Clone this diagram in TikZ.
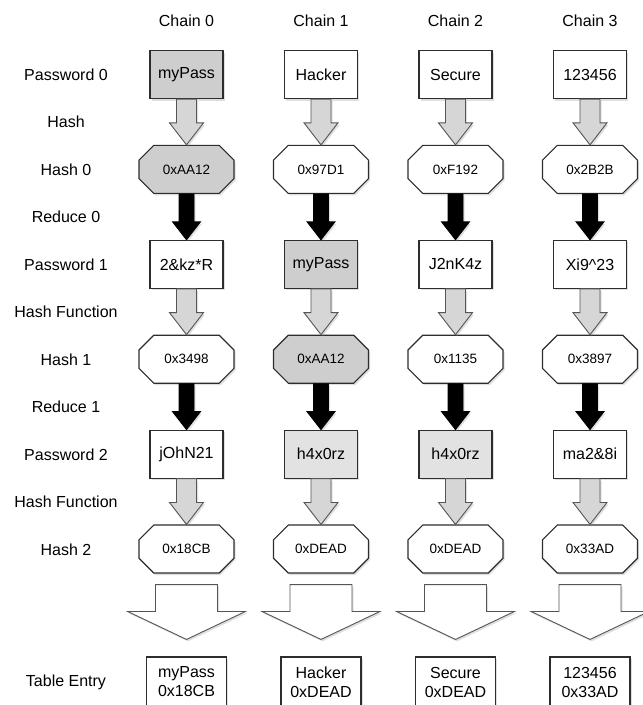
\documentclass[tikz,border=0pt]{standalone}
\usepackage{fontspec}
\setmainfont{Liberation Sans}
\usetikzlibrary{calc,shapes.misc,shadows}
\definecolor{darkline}{RGB}{45,45,45}
\definecolor{hitgray}{RGB}{206,206,206}
\definecolor{palegray}{RGB}{226,226,226}
\definecolor{arrowgray}{RGB}{214,214,214}
\definecolor{outlinegray}{RGB}{85,85,85}
\tikzset{
  softshadow/.style={drop shadow={opacity=0.25, shadow xshift=1.5pt, shadow yshift=-2pt}},
  rowlabel/.style={font=\fontsize{16}{19}\selectfont, align=center},
  chaintitle/.style={font=\fontsize{16}{19}\selectfont},
  pwbox/.style={
    draw=darkline,
    line width=1.1pt,
    fill=white,
    minimum width=73pt,
    minimum height=48pt,
    inner sep=2pt,
    font=\fontsize{16}{19}\selectfont,
    softshadow
  },
  hashbox/.style={pwbox, chamfered rectangle, chamfered rectangle xsep=8pt,
    chamfered rectangle ysep=8pt, minimum width=95pt, font=\fontsize{13.5}{16}\selectfont},
  entrybox/.style={pwbox, minimum width=80pt, minimum height=50pt, align=center},
  hitbox/.style={fill=hitgray},
  halfbox/.style={fill=palegray},
  blockarrow/.style n args={3}{to path={let \p1=(\tikztostart), \p2=(\tikztotarget) in
    (\x1-#1,\y1) -- (\x1-#1,\y2+#3) -- (\x1-#2,\y2+#3) -- (\x1,\y2)
    -- (\x1+#2,\y2+#3) -- (\x1+#1,\y2+#3) -- (\x1+#1,\y1) -- cycle}},
  hasharrow/.style={blockarrow={10pt}{17pt}{22pt}, draw=outlinegray, line width=0.9pt, fill=arrowgray, softshadow},
  reducearrow/.style={blockarrow={7.5pt}{14pt}{18pt}, draw=black, line width=0.9pt, fill=black, softshadow},
  entryarrow/.style={blockarrow={31pt}{59pt}{28pt}, draw=outlinegray, line width=0.9pt, fill=white, softshadow}
}
\begin{document}
\begin{tikzpicture}[x=1pt, y=-1pt]
  \useasboundingbox (0,0) rectangle (643,705);

  \node[rowlabel] (lpass0) at (66,75) {Password 0};
  \node[rowlabel] (lhash) at (66,122) {Hash};
  \node[rowlabel] (lhash0) at (66,170) {Hash 0};
  \node[rowlabel] (lred0) at (66,217) {Reduce 0};
  \node[rowlabel] (lpass1) at (66,265) {Password 1};
  \node[rowlabel] (lfunc1) at (66,312) {Hash Function};
  \node[rowlabel] (lhash1) at (66,360) {Hash 1};
  \node[rowlabel] (lred1) at (66,407) {Reduce 1};
  \node[rowlabel] (lpass2) at (66,455) {Password 2};
  \node[rowlabel] (lfunc2) at (66,502) {Hash Function};
  \node[rowlabel] (lhash2) at (66,550) {Hash 2};
  \node[rowlabel] (lentry) at (66,682) {Table Entry};

  \node[chaintitle] (title0) at (186.5,21) {Chain 0};
  \node[pwbox, hitbox] (pass00) at (186.5,74.5) {myPass};
  \node[hashbox, hitbox] (hash00) at (186.5,169.4) {0xAA12};
  \node[pwbox] (pass10) at (186.5,264.3) {2\&kz*R};
  \node[hashbox] (hash10) at (186.5,359.2) {0x3498};
  \node[pwbox] (pass20) at (186.5,454.1) {jOhN21};
  \node[hashbox] (hash20) at (186.5,549) {0x18CB};
  \node[entrybox] (entry0) at (186.5,682) {myPass\\0x18CB};

  \node[chaintitle] (title1) at (321,21) {Chain 1};
  \node[pwbox] (pass01) at (321,74.5) {Hacker};
  \node[hashbox] (hash01) at (321,169.4) {0x97D1};
  \node[pwbox, hitbox] (pass11) at (321,264.3) {myPass};
  \node[hashbox, hitbox] (hash11) at (321,359.2) {0xAA12};
  \node[pwbox, halfbox] (pass21) at (321,454.1) {h4x0rz};
  \node[hashbox] (hash21) at (321,549) {0xDEAD};
  \node[entrybox] (entry1) at (321,682) {Hacker\\0xDEAD};

  \node[chaintitle] (title2) at (455.5,21) {Chain 2};
  \node[pwbox] (pass02) at (455.5,74.5) {Secure};
  \node[hashbox] (hash02) at (455.5,169.4) {0xF192};
  \node[pwbox] (pass12) at (455.5,264.3) {J2nK4z};
  \node[hashbox] (hash12) at (455.5,359.2) {0x1135};
  \node[pwbox, halfbox] (pass22) at (455.5,454.1) {h4x0rz};
  \node[hashbox] (hash22) at (455.5,549) {0xDEAD};
  \node[entrybox] (entry2) at (455.5,682) {Secure\\0xDEAD};

  \node[chaintitle] (title3) at (590,21) {Chain 3};
  \node[pwbox] (pass03) at (590,74.5) {123456};
  \node[hashbox] (hash03) at (590,169.4) {0x2B2B};
  \node[pwbox] (pass13) at (590,264.3) {Xi9\textasciicircum 23};
  \node[hashbox] (hash13) at (590,359.2) {0x3897};
  \node[pwbox] (pass23) at (590,454.1) {ma2\&8i};
  \node[hashbox] (hash23) at (590,549) {0x33AD};
  \node[entrybox] (entry3) at (590,682) {123456\\0x33AD};

  % chain 0
  \draw[hasharrow] (pass00.south) to (hash00.north);
  \draw[reducearrow] (hash00.south) to (pass10.north);
  \draw[hasharrow] (pass10.south) to (hash10.north);
  \draw[reducearrow] (hash10.south) to (pass20.north);
  \draw[hasharrow] (pass20.south) to (hash20.north);
  \draw[entryarrow] ([yshift=-11pt]hash20.south) to ([yshift=17pt]entry0.north);
  % chain 1
  \draw[hasharrow] (pass01.south) to (hash01.north);
  \draw[reducearrow] (hash01.south) to (pass11.north);
  \draw[hasharrow] (pass11.south) to (hash11.north);
  \draw[reducearrow] (hash11.south) to (pass21.north);
  \draw[hasharrow] (pass21.south) to (hash21.north);
  \draw[entryarrow] ([yshift=-11pt]hash21.south) to ([yshift=17pt]entry1.north);
  % chain 2
  \draw[hasharrow] (pass02.south) to (hash02.north);
  \draw[reducearrow] (hash02.south) to (pass12.north);
  \draw[hasharrow] (pass12.south) to (hash12.north);
  \draw[reducearrow] (hash12.south) to (pass22.north);
  \draw[hasharrow] (pass22.south) to (hash22.north);
  \draw[entryarrow] ([yshift=-11pt]hash22.south) to ([yshift=17pt]entry2.north);
  % chain 3
  \draw[hasharrow] (pass03.south) to (hash03.north);
  \draw[reducearrow] (hash03.south) to (pass13.north);
  \draw[hasharrow] (pass13.south) to (hash13.north);
  \draw[reducearrow] (hash13.south) to (pass23.north);
  \draw[hasharrow] (pass23.south) to (hash23.north);
  \draw[entryarrow] ([yshift=-11pt]hash23.south) to ([yshift=17pt]entry3.north);
\end{tikzpicture}
\end{document}
